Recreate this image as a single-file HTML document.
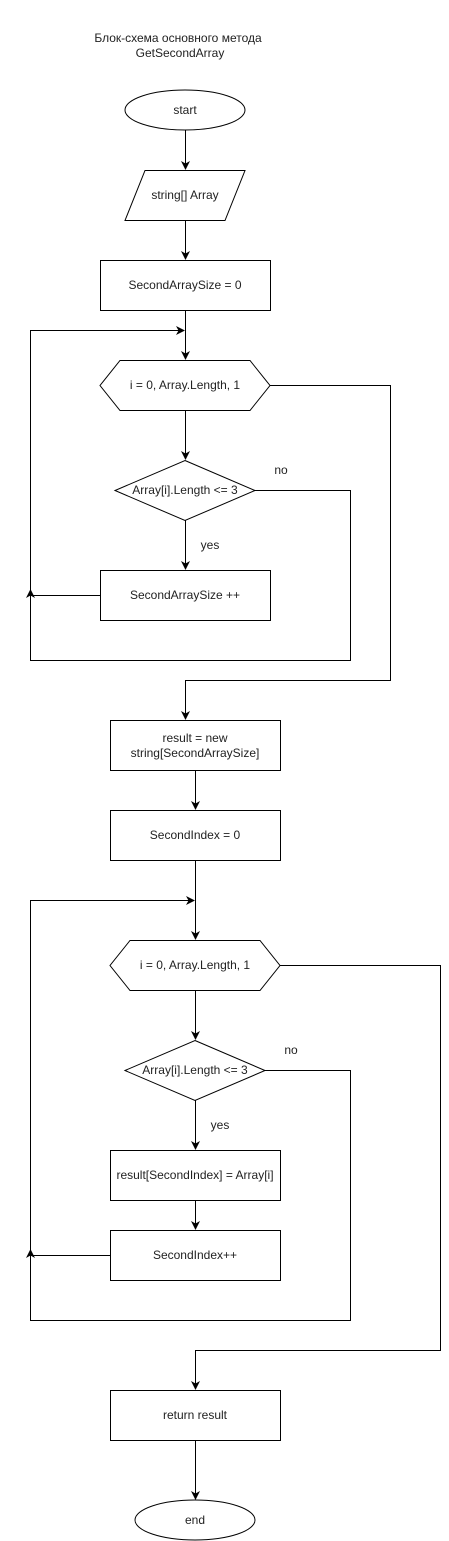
<!DOCTYPE html>
<html><head><meta charset="utf-8"><style>
html,body{margin:0;padding:0;background:#fff;}
svg{display:block;}
text{font-family:"Liberation Sans",sans-serif;font-size:12px;fill:#222;text-anchor:middle;dominant-baseline:central;}
.s{fill:#fff;stroke:#000;stroke-width:1;}
.l{fill:none;stroke:#000;stroke-width:1;}
</style></head><body>
<svg width="449" height="1541" viewBox="0 0 449 1541" xmlns="http://www.w3.org/2000/svg">
<defs>
<marker id="a" markerWidth="9" markerHeight="9" refX="8" refY="4.5" orient="auto" markerUnits="userSpaceOnUse">
<path d="M0,0 L9,4.5 L0,9 L2.5,4.5 Z" fill="#000"/>
</marker>
</defs>
<text x="178" y="38">Блок-схема основного метода</text>
<text x="180" y="53">GetSecondArray</text>

<ellipse class="s" cx="185" cy="110" rx="60" ry="20"/>
<text x="185" y="110">start</text>
<line class="l" x1="185.5" y1="130" x2="185.5" y2="169" marker-end="url(#a)"/>
<polygon class="s" points="145,170.5 245,170.5 225,220.5 125,220.5"/>
<text x="185" y="195">string[] Array</text>
<line class="l" x1="185.5" y1="220" x2="185.5" y2="259" marker-end="url(#a)"/>
<rect class="s" x="100.5" y="260.5" width="170" height="50"/>
<text x="185" y="285">SecondArraySize = 0</text>
<line class="l" x1="185.5" y1="310" x2="185.5" y2="359" marker-end="url(#a)"/>
<polyline class="l" points="30.5,595 30.5,330.5 184,330.5" marker-end="url(#a)"/>
<polygon class="s" points="120,360.5 250,360.5 270,385.5 250,410.5 120,410.5 100,385.5"/>
<text x="185" y="385">i = 0, Array.Length, 1</text>
<line class="l" x1="185.5" y1="410" x2="185.5" y2="459" marker-end="url(#a)"/>
<polygon class="s" points="185,460.5 255,490.5 185,520.5 115,490.5"/>
<text x="185" y="490">Array[i].Length &lt;= 3</text>
<text x="281" y="470">no</text>
<polyline class="l" points="255,490.5 350.5,490.5 350.5,660.5 30.5,660.5 30.5,595"/>
<line class="l" x1="185.5" y1="520" x2="185.5" y2="569" marker-end="url(#a)"/>
<text x="210" y="545">yes</text>
<rect class="s" x="100.5" y="570.5" width="170" height="50"/>
<text x="185" y="595">SecondArraySize ++</text>
<polyline class="l" points="100,595.5 30.5,595.5 30.5,590" marker-end="url(#a)"/>
<polyline class="l" points="270,385.5 390.5,385.5 390.5,680.5 185.5,680.5 185.5,719" marker-end="url(#a)"/>

<rect class="s" x="110.5" y="720.5" width="170" height="50"/>
<text x="195" y="738">result = new</text>
<text x="195" y="753">string[SecondArraySize]</text>
<line class="l" x1="195.5" y1="770" x2="195.5" y2="809" marker-end="url(#a)"/>
<rect class="s" x="110.5" y="810.5" width="170" height="50"/>
<text x="195" y="835">SecondIndex = 0</text>
<line class="l" x1="195.5" y1="860" x2="195.5" y2="939" marker-end="url(#a)"/>
<polyline class="l" points="30.5,1255 30.5,900.5 194,900.5" marker-end="url(#a)"/>
<polygon class="s" points="130,940.5 260,940.5 280,965.5 260,990.5 130,990.5 110,965.5"/>
<text x="195" y="965">i = 0, Array.Length, 1</text>
<line class="l" x1="195.5" y1="990" x2="195.5" y2="1039" marker-end="url(#a)"/>
<polygon class="s" points="195,1040.5 265,1070.5 195,1100.5 125,1070.5"/>
<text x="195" y="1070">Array[i].Length &lt;= 3</text>
<text x="291" y="1050">no</text>
<polyline class="l" points="265,1070.5 350.5,1070.5 350.5,1320.5 30.5,1320.5 30.5,1255"/>
<line class="l" x1="195.5" y1="1100" x2="195.5" y2="1149" marker-end="url(#a)"/>
<text x="220" y="1125">yes</text>
<rect class="s" x="110.5" y="1150.5" width="170" height="50"/>
<text x="195" y="1175">result[SecondIndex] = Array[i]</text>
<line class="l" x1="195.5" y1="1200" x2="195.5" y2="1229" marker-end="url(#a)"/>
<rect class="s" x="110.5" y="1230.5" width="170" height="50"/>
<text x="195" y="1255">SecondIndex++</text>
<polyline class="l" points="110,1255.5 30.5,1255.5 30.5,1250" marker-end="url(#a)"/>
<polyline class="l" points="280,965.5 440.5,965.5 440.5,1350.5 195.5,1350.5 195.5,1389" marker-end="url(#a)"/>
<rect class="s" x="110.5" y="1390.5" width="170" height="50"/>
<text x="195" y="1415">return result</text>
<line class="l" x1="195.5" y1="1440" x2="195.5" y2="1499" marker-end="url(#a)"/>
<ellipse class="s" cx="195" cy="1520" rx="60" ry="20"/>
<text x="195" y="1520">end</text>
</svg>
</body></html>
